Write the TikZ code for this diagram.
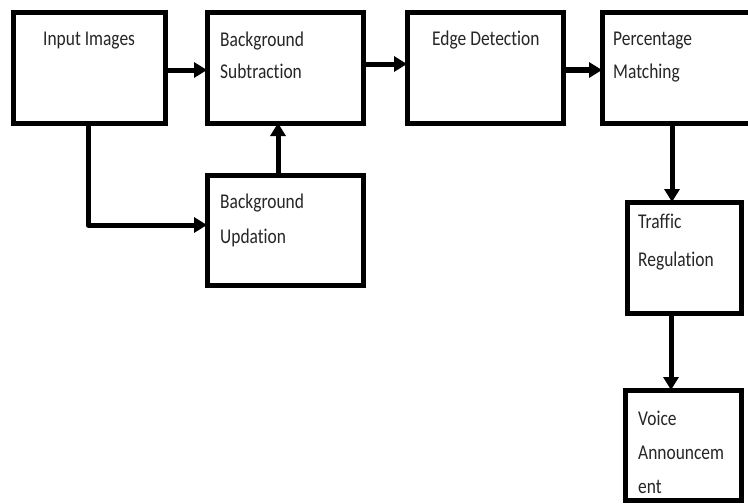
\documentclass[tikz,border=0pt]{standalone}
\usepackage{fontspec}
\setmainfont{Carlito}[FakeStretch=0.83,RawFeature=-liga]
\usetikzlibrary{arrows.meta}
\begin{document}
\begin{tikzpicture}[x=1pt,y=-1pt,
  box/.style={draw=black,line width=5pt,minimum width=#1,inner sep=0pt,outer sep=0pt},
  lbl/.style={anchor=base west,inner sep=0pt,align=left,text=black!85,
    font=\fontsize{21}{33}\selectfont},
  arr/.style={line width=5pt,line join=round,-{Triangle[length=13pt,width=15pt]}}]
\useasboundingbox[fill=white] (0,0) rectangle (748,504);
% boxes (centre, size)
\node[box=152pt,minimum height=111pt] (inp) at (89,67.5) {};
\node[box=156pt,minimum height=111pt] (bs) at (285,67.5) {};
\node[box=156pt,minimum height=111pt] (ed) at (485,67.5) {};
\node[box=150pt,minimum height=111pt] (pm) at (677,67.5) {};
\node[box=156pt,minimum height=110pt] (bu) at (285,230) {};
\node[box=114pt,minimum height=111pt] (tr) at (684,257.5) {};
\node[box=116pt,minimum height=110pt] (va) at (683,445) {};
% texts (anchor = baseline of the last line)
\node[lbl] (tinp) at (43,45) {Input Images};
\node[lbl,font=\fontsize{21}{32}\selectfont] (tbs) at (220,78) {Background\\Subtraction};
\node[lbl] (ted) at (432,45) {Edge Detection};
\node[lbl,font=\fontsize{21}{33}\selectfont] (tpm) at (613,78) {Percentage\\Matching};
\node[lbl,font=\fontsize{21}{35}\selectfont] (tbu) at (220,243) {Background\\Updation};
\node[lbl,font=\fontsize{21}{38}\selectfont] (ttr) at (638,266) {Traffic\\Regulation};
\node[lbl,font=\fontsize{21}{34}\selectfont] (tva) at (638,493) {Voice\\Announcem\\ent};
% connectors
\draw[arr] (inp.east |- 0,70) -- (bs.west |- 0,70);
\draw[arr] (bs.east |- 0,64) -- (ed.west |- 0,64);
\draw[arr,line width=6pt] (ed.east |- 0,70) -- (pm.west |- 0,70);
\draw[arr] (inp.south -| 88,0) |- (bu.west |- 0,225);
\draw[arr] (bu.north -| 278,0) -- (bs.south -| 278,0);
\draw[arr] (pm.south -| 672,0) -- (tr.north -| 672,0);
\draw[arr] (tr.south -| 671,0) -- (va.north -| 671,0);
\end{tikzpicture}
\end{document}
